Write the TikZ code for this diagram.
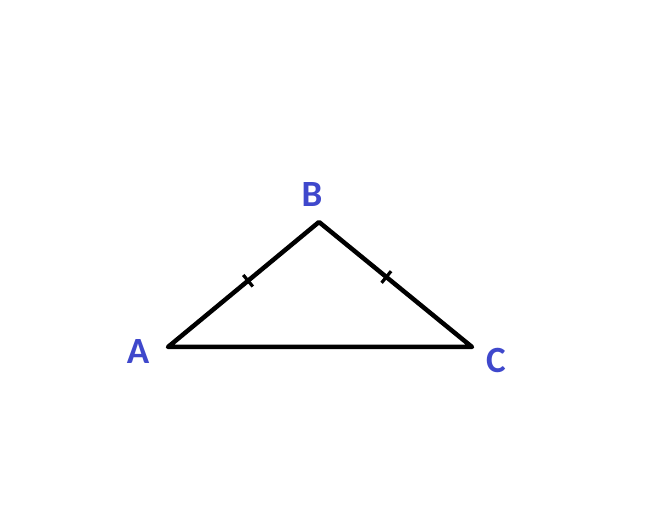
\documentclass[tikz,border=0pt]{standalone}
\usepackage{fontspec}
\setmainfont{Carlito}
\usetikzlibrary{calc}
\definecolor{lbl}{RGB}{63,72,204}
\begin{document}
\begin{tikzpicture}[x=1pt,y=1pt,
  side/.style={line width=4.5pt,line join=round,line cap=round},
  tick/.style={line width=3.2pt},
  vlabel/.style={text=lbl,font=\fontsize{37}{37}\selectfont\bfseries,inner sep=0pt}]
\useasboundingbox (0,0) rectangle (672,508);
\fill[white] (0,0) rectangle (672,508);
\coordinate (A) at (168,161);
\coordinate (B) at (319,286);
\coordinate (C) at (472,161);
\draw[side] (A) -- (B) -- (C) -- cycle;
\path (A) -- (B) coordinate[pos=0.53] (mAB);
\path (B) -- (C) coordinate[pos=0.44] (mBC);
\draw[tick] ($(mAB)!7.5pt!90:(B)$) -- ($(mAB)!7.5pt!-90:(B)$);
\draw[tick] ($(mBC)!7.5pt!90:(C)$) -- ($(mBC)!7.5pt!-90:(C)$);
\node[vlabel] (lA) at (138,156) {A};
\node[vlabel] (lB) at (312,313) {B};
\node[vlabel] (lC) at (496,148) {C};
\end{tikzpicture}
\end{document}
